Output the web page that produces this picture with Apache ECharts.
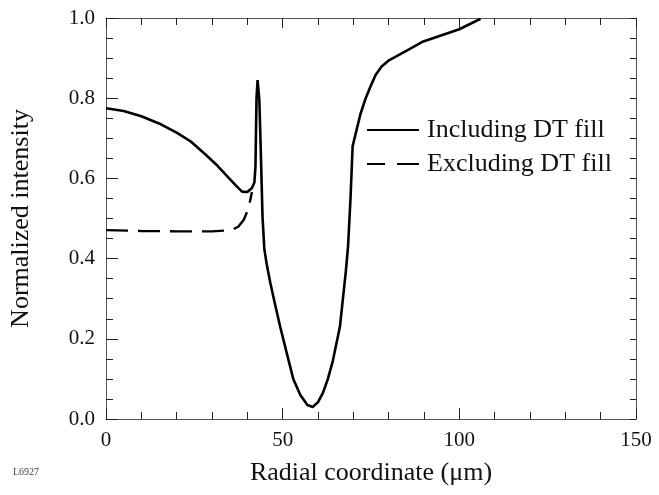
<!DOCTYPE html>
<html>
<head>
<meta charset="utf-8">
<script src="https://cdn.jsdelivr.net/npm/echarts@6/dist/echarts.min.js"></script>
<style>
html,body{margin:0;padding:0;background:#fff;}
#chart{width:659px;height:495px;}
</style>
</head>
<body>
<div id="chart"></div>
<script>
// Radial coordinate (µm) samples and normalized intensity
var includingX = [0, 5, 10, 15, 20, 24, 28, 31.5, 35, 37, 38.5, 40, 41.3, 42, 42.3, 42.6, 42.9, 43.4, 43.8, 44.3, 44.8, 45.5, 46.5, 48, 49.3, 51, 53, 55, 57, 58.5, 60, 61.4, 62.8, 64.2, 66.2, 67.9, 68.5, 69.2, 69.8, 70.7, 72, 73.5, 75, 76.3, 78, 80.2, 85, 89.4, 95, 100, 103, 106];
var includingY = [0.775, 0.768, 0.755, 0.737, 0.714, 0.692, 0.661, 0.632, 0.599, 0.58, 0.567, 0.566, 0.576, 0.59, 0.63, 0.8, 0.845, 0.795, 0.67, 0.504, 0.425, 0.385, 0.34, 0.28, 0.23, 0.17, 0.1, 0.06, 0.035, 0.03, 0.042, 0.065, 0.1, 0.145, 0.23, 0.37, 0.43, 0.55, 0.68, 0.713, 0.76, 0.8, 0.832, 0.858, 0.879, 0.895, 0.918, 0.94, 0.957, 0.972, 0.985, 0.998];
var excludingX = [0, 10, 20, 30, 34, 36, 37.5, 39, 40, 40.8, 41.3];
var excludingY = [0.471, 0.469, 0.468, 0.468, 0.47, 0.473, 0.48, 0.497, 0.518, 0.545, 0.566];
var seriesNames = ['Including DT fill', 'Excluding DT fill'];
var xTickLabels = [0, 50, 100, 150];
var yTickLabels = ['0.0', '0.2', '0.4', '0.6', '0.8', '1.0'];

function pairs(xs, ys) { return xs.map(function (x, i) { return [x, ys[i]]; }); }

var FONT = 'Liberation Serif';
var axisLine = { show: true, onZero: false, lineStyle: { color: '#555', width: 1 } };
var tickStyle = { color: '#222', width: 1 };
var chart = echarts.init(document.getElementById('chart'));
chart.setOption({
  animation: false,
  backgroundColor: '#fff',
  grid: { left: 101, right: 23, top: 18, bottom: 76 },
  legend: {
    orient: 'vertical', left: 362, top: 112, itemGap: 8,
    itemWidth: 52, itemHeight: 2.5,
    textStyle: { fontFamily: FONT, fontSize: 26, color: '#111', padding: [0, 0, 0, 3] },
    data: [
      { name: seriesNames[0], icon: 'path://M0,0h52v2h-52z', itemStyle: { color: '#000' } },
      { name: seriesNames[1], icon: 'path://M0,0h18v2h-18z M30,0h22v2h-22z', itemStyle: { color: '#000' } }
    ]
  },
  xAxis: [{
    type: 'value', min: 0, max: 150, interval: 50,
    name: 'Radial coordinate (μm)', nameLocation: 'middle', nameGap: 41,
    nameTextStyle: { fontFamily: FONT, fontSize: 26, color: '#111' },
    axisLine: axisLine,
    axisTick: { inside: true, length: 11, lineStyle: tickStyle },
    minorTick: { show: true, splitNumber: 5, length: 7, lineStyle: tickStyle },
    splitLine: { show: false },
    axisLabel: { fontFamily: FONT, fontSize: 21, color: '#111', margin: 11,
      formatter: function (v) { return xTickLabels.indexOf(v) >= 0 ? String(v) : ''; } }
  }, {
    type: 'value', min: 0, max: 150, interval: 50, position: 'top',
    axisLine: axisLine,
    axisTick: { inside: true, length: 10, lineStyle: tickStyle },
    minorTick: { show: true, splitNumber: 5, length: 7, lineStyle: tickStyle },
    splitLine: { show: false }, axisLabel: { show: false }
  }],
  yAxis: [{
    type: 'value', min: 0, max: 1, interval: 0.2,
    name: 'Normalized intensity', nameLocation: 'middle', nameGap: 72,
    nameTextStyle: { fontFamily: FONT, fontSize: 26, color: '#111' },
    axisLine: axisLine,
    axisTick: { inside: true, length: 12, lineStyle: tickStyle },
    minorTick: { show: true, splitNumber: 4, length: 7, lineStyle: tickStyle },
    splitLine: { show: false },
    axisLabel: { fontFamily: FONT, fontSize: 21, color: '#111', margin: 11,
      formatter: function (v) { return yTickLabels[Math.round(v / 0.2)]; } }
  }, {
    type: 'value', min: 0, max: 1, interval: 0.2, position: 'right',
    axisLine: axisLine,
    axisTick: { inside: true, length: 6, lineStyle: tickStyle },
    minorTick: { show: true, splitNumber: 4, length: 6, lineStyle: tickStyle },
    splitLine: { show: false }, axisLabel: { show: false }
  }],
  series: [{
    name: seriesNames[0], type: 'line', xAxisIndex: 0, yAxisIndex: 0,
    showSymbol: false, symbol: 'none',
    lineStyle: { color: '#000', width: 2.6 }, itemStyle: { color: '#000' },
    data: pairs(includingX, includingY)
  }, {
    name: seriesNames[1], type: 'line', xAxisIndex: 0, yAxisIndex: 0,
    showSymbol: false, symbol: 'none',
    lineStyle: { color: '#000', width: 2.4, type: [22, 10] }, itemStyle: { color: '#000' },
    data: pairs(excludingX, excludingY)
  }],
  graphic: [{
    type: 'text', left: 13, top: 467,
    style: { text: 'L6927', fontFamily: FONT, fontSize: 10, fill: '#444' }
  }]
});
</script>
</body>
</html>
